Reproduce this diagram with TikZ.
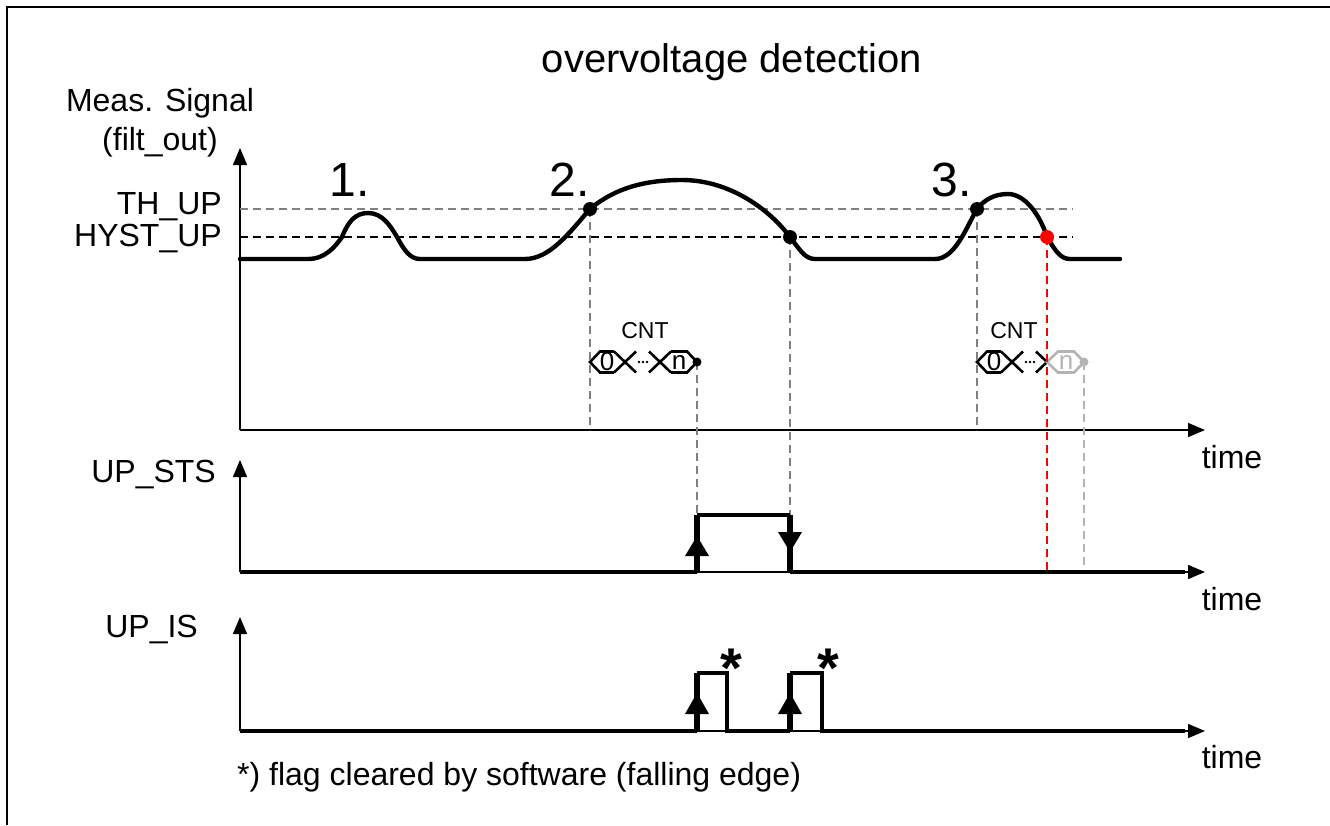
\documentclass[tikz,border=0pt]{standalone}
\usepackage{fontspec}
\setmainfont{Liberation Sans}
\usetikzlibrary{arrows.meta}
\definecolor{lgray}{RGB}{180,180,180}

\begin{document}
\begin{tikzpicture}[x=1pt,y=-1pt,
  txt/.style={font=\fontsize{32}{39}\selectfont,inner sep=0pt},
  axis/.style={line width=1.4pt,-{Triangle[length=17pt,width=14pt]}},
  sig/.style={line width=4.4pt,line join=round,line cap=round},
  lvl/.style={line width=3.4pt},
  edgeline/.style={line width=6pt},
  guide/.style={line width=1.1pt,dash pattern=on 8pt off 5pt,gray},
  thline/.style={line width=1.2pt,dash pattern=on 8pt off 5pt},
  cell/.style={line width=2.6pt,line join=miter}]
  \useasboundingbox (0,0) rectangle (1330,825);
  \draw[line width=1.6pt] (7,825)--(7,7)--(1330,7);

  \node[txt,font=\fontsize{40}{48}\selectfont] (title) at (732,62) {overvoltage detection};
  \node[txt,align=center] (meas) at (160,123) {Meas. Signal\\(filt\_out)};
  \node[txt,anchor=east] (thup) at (222,207) {TH\_UP};
  \node[txt,anchor=east] (hystup) at (222,239) {HYST\_UP};
  \node[txt,anchor=east] (upsts) at (216,474) {UP\_STS};
  \node[txt,anchor=east] (upis) at (198,629) {UP\_IS};
  \node[txt,anchor=west] (note) at (237,777) {*) flag cleared by software (falling edge)};

  % axes
  \foreach \n/\y/\t in {1/430/148,2/572/460,3/731/617} {
    \coordinate (o\n) at (240,\y);
    \coordinate (x\n) at (1205,\y);
    \coordinate (y\n) at (240,\t);
    \draw[axis] (o\n)--(x\n);
    \draw[axis] (o\n)--(y\n);
  }
  \node[txt] (time1) at (1232,457) {time};
  \node[txt] (time2) at (1232,599) {time};
  \node[txt] (time3) at (1232,757) {time};

  % thresholds
  \draw[thline,gray] (240,209)--(1073,209);
  \draw[thline] (240,237)--(1073,237);

  % measured signal
  \coordinate (up2) at (590,209);
  \coordinate (dn2) at (790,237);
  \coordinate (up3) at (977,209);
  \coordinate (dn3) at (1047,237);
  \draw[sig] (240,259)--(308,259) .. controls (325,259) and (335,247) .. (342,237)
    .. controls (348,222) and (355,213) .. (368,213)
    .. controls (382,213) and (390,225) .. (397,237)
    .. controls (404,250) and (410,259) .. (420,259)
    --(525,259) .. controls (550,259) and (570,232) .. (up2)
    .. controls (615,188) and (645,180) .. (682,180)
    .. controls (730,180) and (770,210) .. (dn2)
    .. controls (800,250) and (805,259) .. (815,259)
    --(935,259) .. controls (955,259) and (966,228) .. (up3)
    .. controls (985,199) and (995,194) .. (1008,194)
    .. controls (1025,194) and (1040,215) .. (dn3)
    .. controls (1055,250) and (1060,259) .. (1070,259)--(1120,259);
  \node[txt,font=\fontsize{48}{56}\selectfont] (n1) at (350,180) {1.};
  \node[txt,font=\fontsize{48}{56}\selectfont] (n2) at (570,180) {2.};
  \node[txt,font=\fontsize{48}{56}\selectfont] (n3) at (952,180) {3.};

  % counters
  \foreach \s in {0,387} {
    \begin{scope}[shift={(590+\s,362)}]
      \draw[cell] (24,-10.5)--(10,-10.5)--(0,0)--(10,10.5)--(24,10.5);
      \draw[cell] (24,-10.5)--(46,10.5) (24,10.5)--(46,-10.5);
      \node[inner sep=0pt,font=\fontsize{26}{28}\selectfont] at (17,0) {0};
      \foreach \d in {49,53,57} \fill (\d,0) circle (1.3pt);
    \end{scope}
  }
  \coordinate (c1) at (697,362);
  \coordinate (c2) at (1084,362);
  \begin{scope}[shift={(590,362)}]
    \draw[cell] (59,-10.5)--(81,10.5) (59,10.5)--(81,-10.5);
    \draw[cell] (81,-10.5)--(97,-10.5)--(107,0)--(97,10.5)--(81,10.5);
    \node[inner sep=0pt,font=\fontsize{26}{28}\selectfont] at (89,0) {n};
  \end{scope}
  \begin{scope}[shift={(977,362)}]
    \draw[cell] (59,-10.5)--(70,0)--(59,10.5);
    \draw[cell,lgray] (70,0)--(81,-10.5)--(97,-10.5)--(107,0)--(97,10.5)--(81,10.5)--cycle;
    \node[inner sep=0pt,lgray,font=\fontsize{26}{28}\selectfont] at (89,0) {n};
  \end{scope}
  \node[txt,font=\fontsize{23}{28}\selectfont] (cnt1) at (645,331) {CNT};
  \node[txt,font=\fontsize{23}{28}\selectfont] (cnt2) at (1014,331) {CNT};

  % guides
  \coordinate (s1) at (697,515);
  \coordinate (s2) at (790,515);
  \draw[guide] (up2)--(up2 |- o1);
  \draw[guide] (up3)--(up3 |- o1);
  \draw[guide] (c1)--(s1);
  \draw[guide] (dn2)--(s2);
  \draw[guide,red] (dn3)--(dn3 |- o2);
  \draw[guide,lgray] (c2)--(c2 |- o2);

  \fill (c1) circle (4.5pt);
  \fill[lgray] (c2) circle (4.5pt);
  \foreach \p in {up2,dn2,up3} \fill (\p) circle (7pt);
  \fill[red] (dn3) circle (7pt);

  % UP_STS
  \draw[lvl] (o2)--(697,572) (s1)--(s2) (790,572)--(1185,572);
  \draw[edgeline] (697,572)--(s1);
  \draw[edgeline] (s2)--(790,572);
  \fill (697,536)--(685,556)--(709,556)--cycle;
  \fill (790,552)--(778,532)--(802,532)--cycle;

  % UP_IS
  \draw[lvl] (o3)--(697,731) (697,673)--(727,673)--(727,731)--(790,731)
    (790,673)--(822,673)--(822,731)--(1185,731);
  \draw[edgeline] (697,731)--(697,673);
  \draw[edgeline] (790,731)--(790,673);
  \fill (697,693)--(685,714)--(709,714)--cycle;
  \fill (790,693)--(778,714)--(802,714)--cycle;
  \node[txt,anchor=base,font=\bfseries\fontsize{56}{66}\selectfont] (ast1) at (731,687) {*};
  \node[txt,anchor=base,font=\bfseries\fontsize{56}{66}\selectfont] (ast2) at (828,687) {*};
\end{tikzpicture}
\end{document}
